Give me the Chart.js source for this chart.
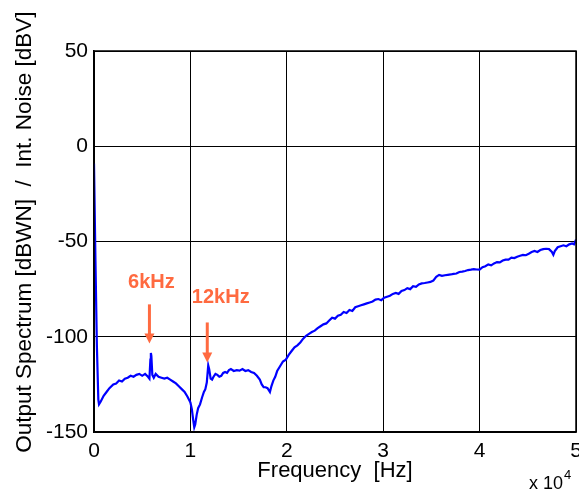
<!DOCTYPE html>
<html>
<head>
<meta charset="utf-8">
<script src="https://cdn.jsdelivr.net/npm/chart.js@4.4.0/dist/chart.umd.min.js"></script>
<style>
  html, body { margin: 0; padding: 0; background: #fff; }
  #wrap { width: 579px; height: 491px; }
</style>
</head>
<body>
<div id="wrap"><canvas id="chart" width="579" height="491"></canvas></div>
<script>
// spectrum: frequency in Hz, level in dB
const freqHz = [
  0, 150, 300, 450, 520, 700, 1000, 1300, 1600, 2000, 2300, 2600, 2900, 3200, 3500, 3800,
  4100, 4400, 4700, 5000, 5300, 5600, 5750, 5850, 5900, 5950, 6050, 6200, 6400, 6700, 7000,
  7300, 7600, 7900, 8200, 8500, 8800, 9100, 9400, 9700, 9900, 10000, 10150, 10300, 10400,
  10500, 10650, 10800, 11000, 11200, 11400, 11550, 11700, 11850, 11950, 12100, 12250, 12400,
  12600, 12800, 13000, 13200, 13400, 13600, 13800, 14000, 14200, 14500, 14800, 15100, 15400,
  15700, 16000, 16300, 16600, 16900, 17200, 17400, 17600, 17800, 18000, 18250, 18400, 18600,
  18800, 19000, 19300, 19600, 19900, 20200, 20500, 20800, 21100, 21400, 21700, 22000, 22300,
  22600, 22900, 23200, 23500, 23800, 24100, 24400, 24700, 25000, 25300, 25600, 25900, 26200,
  26500, 26800, 27100, 27400, 27700, 28000, 28300, 28600, 28900, 29200, 29500, 29800, 30100,
  30400, 30700, 31000, 31300, 31600, 31900, 32200, 32500, 32800, 33100, 33400, 33700, 34000,
  34300, 34600, 34900, 35200, 35500, 35800, 36100, 36400, 36700, 37000, 37300, 37600, 37900,
  38200, 38500, 38800, 39100, 39400, 39700, 40000, 40300, 40600, 40900, 41200, 41500, 41800,
  42100, 42400, 42700, 43000, 43300, 43600, 43900, 44200, 44500, 44800, 45100, 45400, 45700,
  46000, 46300, 46600, 46900, 47200, 47500, 47650, 47800, 48100, 48400, 48700, 49000, 49300,
  49600, 49800, 50000
];
const levelDb = [
  -9, -60, -105, -133, -135.5, -134, -131, -129, -127, -125, -124.5, -123, -123.5, -122, -121.5, -120.5,
  -121, -120, -119.5, -120.5, -119.5, -121, -122, -112, -108.5, -110, -120, -121.5, -119.5, -121, -121.5,
  -122, -121.5, -122.5, -123.5, -124.5, -126, -127.5, -129, -131.5, -133.5, -134.5, -138, -144, -147.5,
  -146, -141, -137.5, -135.5, -132, -129, -127.5, -124, -115, -117, -122, -122.5, -121,
  -119.5, -120, -121, -120.5, -119, -118.5, -119, -117.5, -117, -118, -117.5, -117.8, -117,
  -118, -117.5, -118.5, -119, -120.5, -122.5, -125, -126.5, -126.5, -127, -129, -126, -123,
  -121, -118, -115.5, -113, -112, -109.5, -107.5, -105.5, -104.5, -103, -101, -99.5, -98.5,
  -97.5, -96.8, -95.5, -94.5, -93.5, -93, -91.5, -90, -90.5, -89, -88.5, -87, -87.5,
  -86, -86.5, -84.5, -84, -83.5, -83, -82.5, -82, -81.5, -80.5, -80.2, -80.8, -79.5,
  -79, -78.5, -77.5, -77, -77.5, -76, -75.5, -74.5, -75, -73.5, -73.8, -72.5, -72,
  -71.8, -71.5, -71.2, -70.5, -68.5, -67.5, -68, -67.7, -67.5, -67.3, -67, -66.8, -66,
  -65.8, -65.5, -65, -64.8, -64.5, -64.7, -64.8, -63.5, -63, -62, -62.5, -61.5, -60.8,
  -61, -60, -59.5, -59.5, -58.5, -58.7, -58, -57.5, -57, -57.2, -56.4, -55.5, -55,
  -55.5, -54.5, -54, -53.8, -54, -55.5, -57, -55, -53, -52.5, -52, -52.5, -51.5,
  -51, -51.5, -49
];
const xTicks = [0, 10000, 20000, 30000, 40000, 50000];
const yTicks = [-150, -100, -50, 0, 50];

// tone markers: label, arrow x (Hz), arrow tail / head (dB), label position (Hz, dB)
const markers = [
  { text: '6kHz',  x: 5750,  tail: -83,  head: -103.5, lx: 5950,  ly: -71.5 },
  { text: '12kHz', x: 11750, tail: -92.5, head: -113.5, lx: 13150, ly: -79.5 }
];

const FONT = "'Liberation Sans', Arial, sans-serif";

const extras = {
  id: 'extras',
  afterDatasetsDraw(chart) {
    const { ctx, scales: { x, y }, chartArea: a } = chart;
    ctx.save();
    // box
    ctx.strokeStyle = '#000';
    ctx.lineWidth = 1.5;
    ctx.strokeRect(a.left, a.top, a.right - a.left, a.bottom - a.top);
    // markers
    const orange = '#ff6a40';
    markers.forEach(m => {
      const px = x.getPixelForValue(m.x);
      const y0 = y.getPixelForValue(m.tail);
      const y1 = y.getPixelForValue(m.head);
      ctx.strokeStyle = orange;
      ctx.fillStyle = orange;
      ctx.lineWidth = 3;
      ctx.beginPath();
      ctx.moveTo(px, y0);
      ctx.lineTo(px, y1 - 8);
      ctx.stroke();
      ctx.beginPath();
      ctx.moveTo(px - 5, y1 - 10);
      ctx.lineTo(px + 5, y1 - 10);
      ctx.lineTo(px, y1);
      ctx.closePath();
      ctx.fill();
      ctx.font = 'bold 20px ' + FONT;
      ctx.textAlign = 'center';
      ctx.textBaseline = 'middle';
      ctx.fillText(m.text, x.getPixelForValue(m.lx), y.getPixelForValue(m.ly));
    });
    ctx.restore();
  },
  afterDraw(chart) {
    const { ctx } = chart;
    ctx.save();
    ctx.fillStyle = '#000';
    ctx.textBaseline = 'alphabetic';
    ctx.textAlign = 'left';
    ctx.font = '18px ' + FONT;
    ctx.fillText('x 10', 529, 489);
    ctx.font = '13px ' + FONT;
    ctx.fillText('4', 564, 479);
    ctx.restore();
  }
};

new Chart(document.getElementById('chart'), {
  type: 'line',
  data: {
    datasets: [{
      data: freqHz.map((f, i) => ({ x: f, y: levelDb[i] })),
      borderColor: '#0000ff',
      borderWidth: 2.2,
      pointRadius: 0,
      tension: 0,
      fill: false
    }]
  },
  options: {
    responsive: false,
    animation: false,
    events: [],
    layout: { padding: { top: 51, right: 3, left: 0, bottom: 0 } },
    plugins: { legend: { display: false }, tooltip: { enabled: false } },
    scales: {
      x: {
        type: 'linear',
        min: 0,
        max: 50000,
        afterBuildTicks: s => { s.ticks = xTicks.map(v => ({ value: v })); },
        afterFit: s => { s.height = 59; s.paddingLeft = 0; s.paddingRight = 0; },
        ticks: {
          color: '#000',
          font: { family: FONT, size: 21 },
          padding: 7,
          maxRotation: 0,
          callback: v => String(v / 10000)
        },
        grid: { color: '#000', lineWidth: 1, drawTicks: false },
        border: { display: true, color: '#000', width: 1.5 },
        title: {
          display: true,
          text: 'Frequency  [Hz]',
          color: '#000',
          font: { family: FONT, size: 22 },
          padding: { top: 0, bottom: 7 }
        }
      },
      y: {
        type: 'linear',
        min: -150,
        max: 50,
        afterBuildTicks: s => { s.ticks = yTicks.map(v => ({ value: v })); },
        afterFit: s => { s.width = 94; },
        ticks: {
          color: '#000',
          font: { family: FONT, size: 21 },
          padding: 6
        },
        grid: { color: '#000', lineWidth: 1, drawTicks: false },
        border: { display: true, color: '#000', width: 1.5 },
        title: {
          display: true,
          text: '   Output Spectrum [dBWN]  /  Int. Noise [dBV]',
          color: '#000',
          font: { family: FONT, size: 22.5 },
          padding: { top: 11, bottom: 0 }
        }
      }
    }
  },
  plugins: [extras]
});
</script>
</body>
</html>
